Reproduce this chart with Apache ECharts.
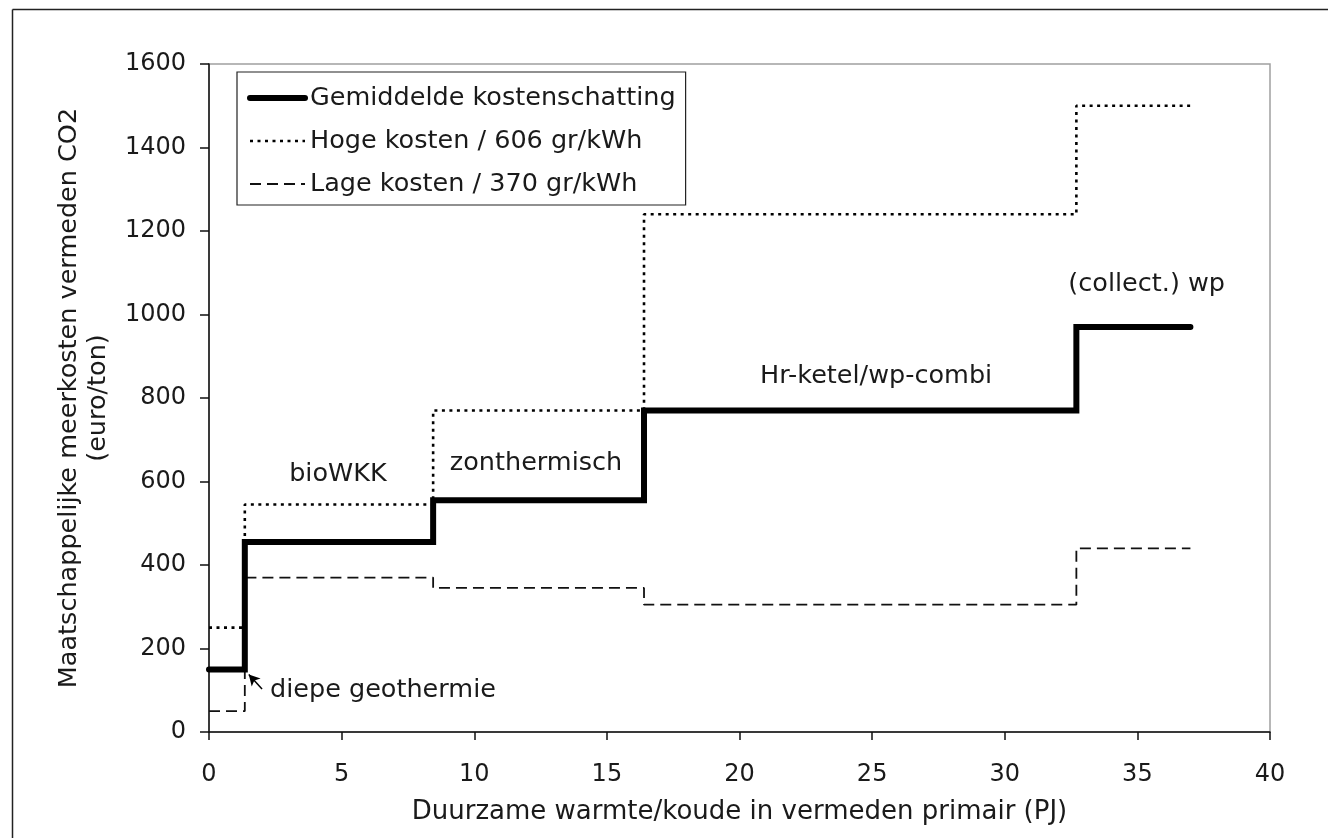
<!DOCTYPE html>
<html>
<head>
<meta charset="utf-8">
<script src="https://cdn.jsdelivr.net/npm/echarts@6/dist/echarts.min.js"></script>
<style>
html,body{margin:0;padding:0;background:#fff;}
#chart{width:1328px;height:838px;}
</style>
</head>
<body>
<div id="chart"></div>
<script>
// Step breakpoints (PJ)
const stepX = [0, 1.35, 8.45, 16.4, 32.7, 37];
// Series values (euro/ton), value holds from its x until the next breakpoint
const gemiddeld = [150, 455, 555, 770, 970, 970];
const hoge = [250, 545, 770, 1240, 1500, 1500];
const lage = [50, 370, 345, 305, 440, 440];
const seriesNames = ['Gemiddelde kostenschatting', 'Hoge kosten / 606 gr/kWh', 'Lage kosten / 370 gr/kWh'];
// Annotations (x, y in data units)
const annoNames = ['bioWKK', 'zonthermisch', 'Hr-ketel/wp-combi', '(collect.) wp'];
const annoX = [4.86, 12.33, 25.15, 35.35];
const annoY = [616, 643, 851, 1073];
const xTicks = { min: 0, max: 40, interval: 5 };
const yTicks = { min: 0, max: 1600, interval: 200 };

const pts = (ys) => stepX.map((x, i) => [x, ys[i]]);
const FONT = 'DejaVu Sans, Verdana, sans-serif';
const TXT = '#1a1a1a';
const FS = 25.5;

const styles = [
  { color: '#000', width: 6, type: 'solid', cap: 'round' },
  { color: '#000', width: 2.6, type: [3, 4.5], cap: 'butt' },
  { color: '#111', width: 1.8, type: [11, 6], cap: 'butt' }
];

const chart = echarts.init(document.getElementById('chart'));
chart.setOption({
  animation: false,
  backgroundColor: '#fff',
  graphic: [
    { type: 'line', shape: { x1: 12.5, y1: 9.5, x2: 1328, y2: 9.5 }, style: { stroke: '#222', lineWidth: 1.5 } },
    { type: 'line', shape: { x1: 12.5, y1: 9.5, x2: 12.5, y2: 838 }, style: { stroke: '#222', lineWidth: 1.5 } }
  ],
  grid: { left: 209, right: 58, top: 64, bottom: 106, show: true, borderColor: '#a0a0a0', borderWidth: 1.5 },
  legend: {
    orient: 'vertical', left: 237, top: 72,
    borderColor: '#222', borderWidth: 1.2, borderRadius: 0,
    padding: [13, 10, 8, 10], itemGap: 17,
    itemWidth: 55, itemHeight: 26,
    textStyle: { fontFamily: FONT, fontSize: FS, color: TXT },
    itemStyle: { opacity: 0 },
    data: seriesNames.map((n, i) => ({
      name: n,
      itemStyle: { opacity: 0 },
      lineStyle: { color: styles[i].color, width: styles[i].width, type: styles[i].type, cap: styles[i].cap, opacity: 1 }
    }))
  },
  xAxis: {
    type: 'value', min: xTicks.min, max: xTicks.max, interval: xTicks.interval,
    name: 'Duurzame warmte/koude in vermeden primair (PJ)',
    nameLocation: 'middle', nameGap: 67,
    nameTextStyle: { fontFamily: FONT, fontSize: 26, color: TXT },
    axisLine: { show: true, lineStyle: { color: '#111', width: 1.5 } },
    axisTick: { show: true, length: 8, lineStyle: { color: '#111', width: 1.5 } },
    axisLabel: { fontFamily: FONT, fontSize: 24, color: TXT, margin: 31 },
    splitLine: { show: false }
  },
  yAxis: {
    type: 'value', min: yTicks.min, max: yTicks.max, interval: yTicks.interval,
    name: 'Maatschappelijke meerkosten vermeden CO2\n(euro/ton)',
    nameLocation: 'middle', nameGap: 96, nameRotate: 90,
    nameTextStyle: { fontFamily: FONT, fontSize: FS, color: TXT, lineHeight: 29, align: 'center' },
    axisLine: { show: true, lineStyle: { color: '#111', width: 1.5 } },
    axisTick: { show: true, length: 9, lineStyle: { color: '#111', width: 1.5 } },
    axisLabel: { fontFamily: FONT, fontSize: 24, color: TXT, margin: 23, formatter: (v) => String(v) },
    splitLine: { show: false }
  },
  series: [
    {
      name: seriesNames[0], type: 'line', step: 'end', data: pts(gemiddeld),
      symbol: 'none', z: 5,
      lineStyle: { color: styles[0].color, width: styles[0].width, cap: 'round', join: 'miter' },
      itemStyle: { color: '#000' }
    },
    {
      name: seriesNames[1], type: 'line', step: 'end', data: pts(hoge),
      symbol: 'none', z: 4,
      lineStyle: { color: styles[1].color, width: styles[1].width, type: styles[1].type },
      itemStyle: { color: '#000' }
    },
    {
      name: seriesNames[2], type: 'line', step: 'end', data: pts(lage),
      symbol: 'none', z: 3,
      lineStyle: { color: styles[2].color, width: styles[2].width, type: styles[2].type },
      itemStyle: { color: '#111' }
    },
    {
      type: 'scatter', silent: true, symbolSize: 0, z: 6,
      itemStyle: { opacity: 1, color: TXT },
      data: annoNames.map((n, i) => ({ name: n, value: [annoX[i], annoY[i]] })),
      label: { show: true, position: 'inside', formatter: '{b}', fontFamily: FONT, fontSize: FS, color: TXT, opacity: 1 }
    },
    {
      type: 'scatter', silent: true, symbolSize: 0, z: 6,
      itemStyle: { opacity: 1, color: TXT },
      data: [{ name: 'diepe geothermie', value: [2.3, 100] }],
      label: { show: true, position: 'right', distance: 0, formatter: '{b}', fontFamily: FONT, fontSize: FS, color: TXT, opacity: 1 },
      markLine: {
        silent: true, symbol: ['none', 'arrow'], symbolSize: [9, 11], label: { show: false },
        lineStyle: { color: '#000', width: 1.5, type: 'solid' },
        data: [[{ coord: [2.0, 103] }, { coord: [1.5, 138] }]]
      }
    }
  ]
});
</script>
</body>
</html>
